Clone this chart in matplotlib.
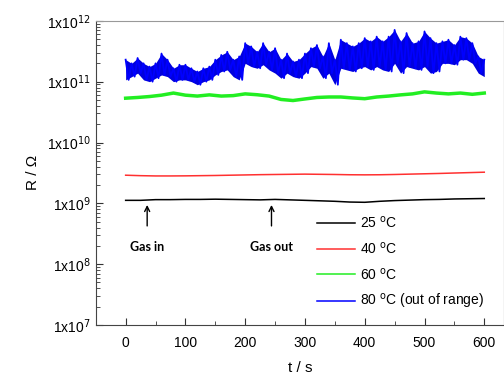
import numpy as np
import matplotlib
matplotlib.use('Agg')
import matplotlib.pyplot as plt
from matplotlib.ticker import FixedLocator, NullFormatter, MultipleLocator

plt.rcParams['font.family'] = ['Liberation Sans', 'DejaVu Sans']

# 25 and 40 C, every 25 s
t_slow = np.arange(0, 601, 25)
r25 = [1.12, 1.12, 1.15, 1.15, 1.16, 1.16, 1.17, 1.16, 1.15, 1.14, 1.16, 1.14, 1.12,
       1.10, 1.08, 1.05, 1.04, 1.08, 1.11, 1.13, 1.15, 1.16, 1.18, 1.19, 1.20]  # x1e9
r40 = [2.90, 2.85, 2.82, 2.82, 2.83, 2.85, 2.87, 2.90, 2.93, 2.96, 2.98, 3.00, 3.02,
       3.00, 2.98, 2.95, 2.94, 2.95, 2.98, 3.02, 3.06, 3.10, 3.15, 3.20, 3.25]  # x1e9

# 60 C, every 20 s
t_60 = np.arange(0, 601, 20)
r60 = [5.35, 5.5, 5.7, 6.0, 6.5, 6.0, 5.8, 6.07, 5.8, 5.9, 6.3, 6.1, 5.8, 5.1, 4.9, 5.2,
       5.5, 5.6, 5.6, 5.4, 5.25, 5.6, 5.8, 6.07, 6.3, 6.8, 6.5, 6.3, 6.5, 6.2, 6.5]  # x1e10

# 80 C, noisy band: upper and lower edge every 10 s
t_80 = np.arange(0, 601, 10)
r80_hi = [2.3, 2.0, 2.45, 2.0, 1.77, 2.0, 2.9, 2.3, 1.66, 1.9, 1.9, 1.66, 1.47, 1.66, 1.77,
          2.3, 2.75, 3.1, 2.3, 2.6, 4.3, 3.8, 3.1, 4.3, 3.1, 3.55, 2.3, 2.9, 2.15, 2.3,
          2.9, 3.55, 4.0, 2.6, 4.3, 2.3, 4.9, 4.3, 3.8, 4.3, 5.2, 4.6, 5.5, 4.6, 5.5,
          7.1, 4.6, 6.3, 4.3, 4.6, 6.7, 5.2, 4.3, 4.6, 4.9, 4.0, 5.5, 5.2, 4.3, 2.6, 2.3]  # x1e11
r80_lo = [1.07, 1.21, 1.38, 1.07, 1.0, 1.14, 1.29, 1.21, 1.0, 1.07, 1.07, 1.0, 0.89, 1.0, 1.07,
          1.29, 1.47, 1.56, 1.21, 1.07, 2.0, 1.77, 1.66, 1.9, 1.56, 1.38, 1.14, 1.38, 1.21, 1.14,
          1.38, 1.77, 1.66, 1.14, 1.38, 0.89, 1.66, 1.56, 1.47, 1.66, 1.77, 1.56, 1.77, 1.56, 1.47,
          2.0, 1.38, 1.77, 1.66, 1.56, 1.77, 1.38, 1.47, 2.0, 2.0, 1.9, 2.3, 2.3, 2.0, 1.38, 1.21]  # x1e11

fig = plt.figure(figsize=(5.04, 3.79), dpi=100)
ax = fig.add_axes([0.19, 0.1425, 0.81, 0.8025])

deg = '$^{\\mathrm{o}}$C'
ax.plot(t_slow, np.array(r25) * 1e9, color='black', lw=1.1, label='25 ' + deg)
ax.plot(t_slow, np.array(r40) * 1e9, color='#ff3030', lw=1.1, label='40 ' + deg)
ax.plot(t_60, np.array(r60) * 1e10, color='#22ee22', lw=2.5, label='60 ' + deg)

# the 80 C signal jumps between its upper and lower edge: draw it as a dense zigzag
t_zig = np.column_stack([t_80, t_80 + 5]).ravel()[:-1]
r_zig = np.column_stack([r80_hi, r80_lo]).ravel()[:-1] * 1e11
ax.fill_between(t_80, np.array(r80_lo) * 1e11, np.array(r80_hi) * 1e11, color='#0000dd', lw=0)
ax.plot(t_zig, r_zig, color='#0000ff', lw=1.3, label='80 ' + deg + ' (out of range)')

ax.set_yscale('log')
ax.set_ylim(1e7, 1e12)
ax.set_xlim(-50, 633)

ax.yaxis.set_major_locator(FixedLocator([1e7, 1e8, 1e9, 1e10, 1e11, 1e12]))
ax.set_yticklabels(['1x10$^{%d}$' % e for e in range(7, 13)])
ax.yaxis.set_minor_locator(FixedLocator([m * 10.0 ** e for e in range(7, 12) for m in range(2, 10)]))
ax.yaxis.set_minor_formatter(NullFormatter())
ax.xaxis.set_major_locator(FixedLocator([0, 100, 200, 300, 400, 500, 600]))
ax.xaxis.set_minor_locator(MultipleLocator(50))

ax.tick_params(which='both', direction='in', labelsize=10, color='#333333')
ax.tick_params(which='major', length=5)
ax.tick_params(which='minor', length=3)
ax.tick_params(axis='x', pad=8)
for s in ax.spines.values():
    s.set_color('#444444')
ax.spines['top'].set_color('#999999')

ax.set_xlabel('t / s', fontsize=11, labelpad=8)
ax.set_ylabel('R / Ω', fontsize=11, labelpad=5)

for x, txt in [(36, 'Gas in'), (244, 'Gas out')]:
    ax.annotate(txt, xy=(x, 9.4e8), xytext=(x, 1.9e8), ha='center', va='center',
                fontsize=9, fontweight='bold', family='Lato',
                arrowprops=dict(arrowstyle='->', color='black', lw=1, shrinkB=0, shrinkA=9))

leg = ax.legend(loc='lower left', bbox_to_anchor=(0.515, 0.01), frameon=False, fontsize=10,
                handlelength=2.7, handletextpad=0.4, labelspacing=0.7, borderaxespad=0.4)
for h in leg.get_lines():
    h.set_linewidth(1.1)

fig.savefig('out.png', dpi=100)
